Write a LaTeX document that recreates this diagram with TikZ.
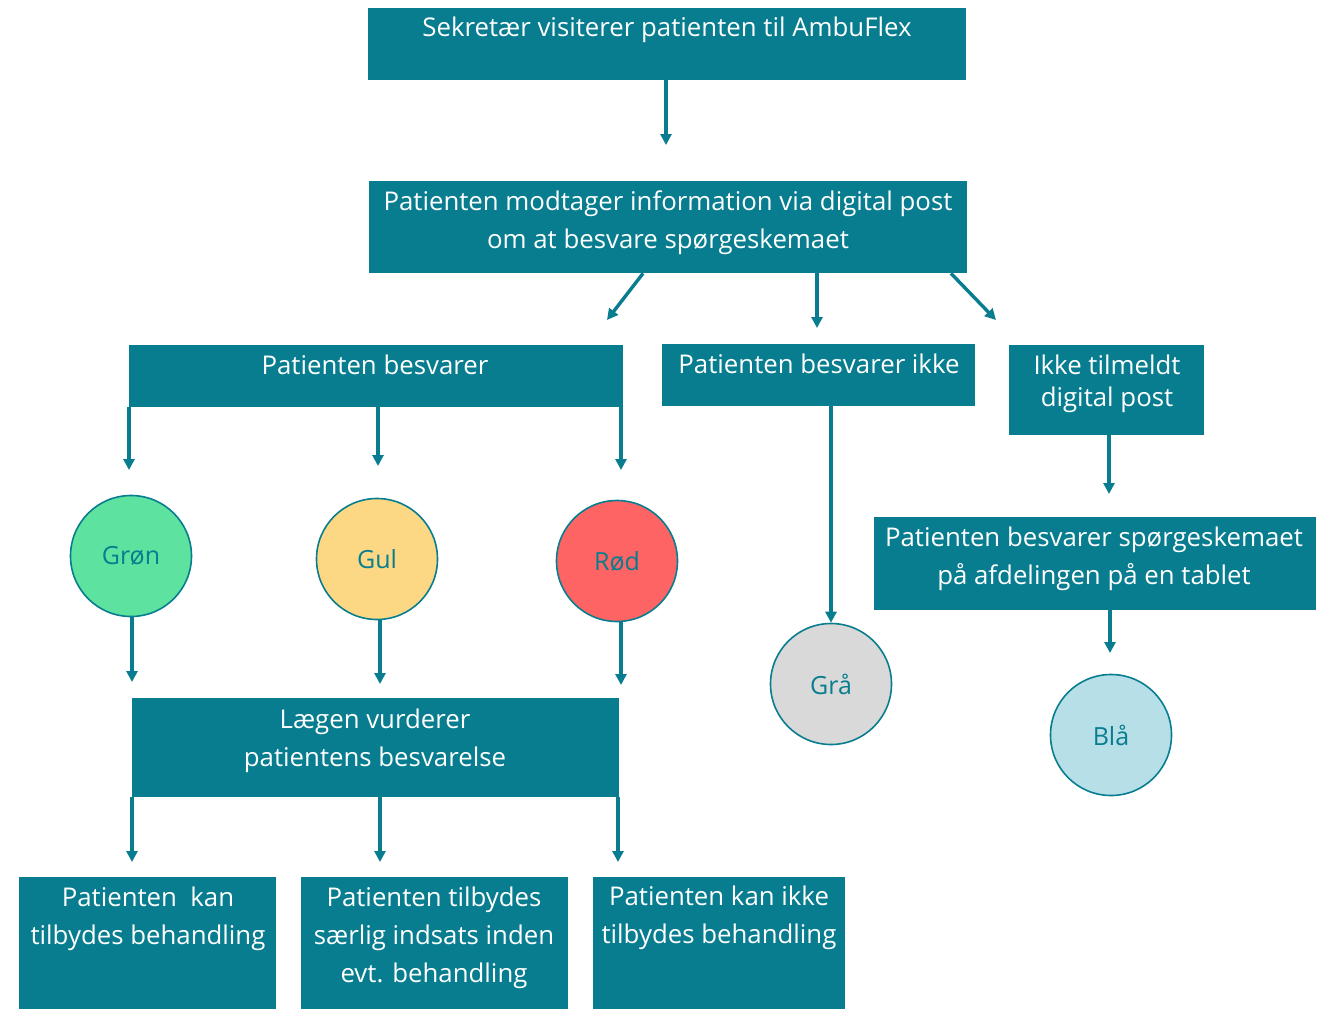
\documentclass[tikz,border=0pt]{standalone}
\usepackage{fontspec}
\setmainfont{Open Sans}
\usetikzlibrary{arrows.meta}
\definecolor{teal}{HTML}{077D8F}
\definecolor{cgreen}{HTML}{5DE2A0}
\definecolor{cyellow}{HTML}{FDD884}
\definecolor{cred}{HTML}{FE6464}
\definecolor{cgrey}{HTML}{D9D9D9}
\definecolor{cblue}{HTML}{B7DFE8}
\tikzset{
  box/.style={fill=teal, draw=none, anchor=north west, inner sep=0pt},
  txt/.style={text=white, align=center, anchor=base, inner sep=0pt, font=\fontsize{25.8}{38}\selectfont},
  circ/.style={circle, draw=teal, line width=1.6pt, minimum size=121pt, inner sep=0pt, text=teal, font=\fontsize{25}{28}\selectfont},
  arr/.style={draw=teal, line width=3.4pt, -{Triangle[length=11pt,width=11pt]}},
}
\begin{document}
\begin{tikzpicture}[x=1pt,y=-1pt]
\useasboundingbox (0,0) rectangle (1320,1009);
% boxes
\node[box, minimum width=598pt, minimum height=72pt] (b1) at (368,8) {};
\node[txt] (t1) at (667,36) {Sekretær visiterer patienten til AmbuFlex};
\node[box, minimum width=598pt, minimum height=92pt] (b2) at (369,181) {};
\node[txt] (t2) at (668,248) {Patienten modtager information via digital post\\om at besvare spørgeskemaet};
\node[box, minimum width=494pt, minimum height=62pt] (b3) at (129,345) {};
\node[txt] (t3) at (375,374) {Patienten besvarer};
\node[box, minimum width=313pt, minimum height=62pt] (b4) at (662,344) {};
\node[txt] (t4) at (819,373) {Patienten besvarer ikke};
\node[box, minimum width=195pt, minimum height=90pt] (b5) at (1009,345) {};
\node[txt, font=\fontsize{25.8}{32}\selectfont] (t5) at (1107,406) {Ikke tilmeldt\\digital post};
\node[box, minimum width=442pt, minimum height=93pt] (b6) at (874,517) {};
\node[txt] (t6) at (1094,584) {Patienten besvarer spørgeskemaet\\på afdelingen på en tablet};
\node[box, minimum width=487pt, minimum height=99pt] (b7) at (132,698) {};
\node[txt] (t7) at (375,766) {Lægen vurderer\\patientens besvarelse};
\node[box, minimum width=257pt, minimum height=132pt] (b8) at (19,877) {};
\node[txt] (t8) at (148,944) {Patienten\ \ kan\\tilbydes behandling};
\node[box, minimum width=267pt, minimum height=132pt] (b9) at (301,877) {};
\node[txt] (t9) at (434,982) {Patienten tilbydes\\særlig indsats inden\\evt. behandling};
\node[box, minimum width=252pt, minimum height=132pt] (b10) at (593,877) {};
\node[txt] (t10) at (719,943) {Patienten kan ikke\\tilbydes behandling};
% circles
\node[circ, fill=cgreen] (c1) at (131,556) {Grøn};
\node[circ, fill=cyellow] (c2) at (377,559) {Gul};
\node[circ, fill=cred] (c3) at (617,561) {Rød};
\node[circ, fill=cgrey] (c4) at (831,684) {Grå};
\node[circ, fill=cblue] (c5) at (1111,735) {Blå};
% arrow end coordinates
\coordinate (e1) at (666,145);
\coordinate (e2) at (607,320);
\coordinate (e3) at (817,328);
\coordinate (e4) at (996,320);
\coordinate (e5) at (129,470);
\coordinate (e6) at (378,466);
\coordinate (e7) at (621,470);
\coordinate (e8) at (1109,494);
\coordinate (e9) at (1110,653);
\coordinate (e10) at (132,682);
\coordinate (e11) at (380,684);
\coordinate (e12) at (621,685);
\coordinate (e13) at (132,862);
\coordinate (e14) at (380,862);
\coordinate (e15) at (618,862);
% arrows
\draw[arr] (b1.south west -| e1) -- (e1);
\draw[arr] ([xshift=274pt]b2.south west) -- (e2);
\draw[arr] (b2.south west -| e3) -- (e3);
\draw[arr] ([xshift=582pt]b2.south west) -- (e4);
\draw[arr] (b3.south west -| e5) -- (e5);
\draw[arr] (b3.south west -| e6) -- (e6);
\draw[arr] (b3.south west -| e7) -- (e7);
\draw[arr] (b4.south west -| c4.north) -- (c4.north);
\draw[arr] (c1.south -| e10) -- (e10);
\draw[arr] (c2.south -| e11) -- (e11);
\draw[arr] (c3.south -| e12) -- (e12);
\draw[arr] (b5.south west -| e8) -- (e8);
\draw[arr] (b6.south west -| e9) -- (e9);
\draw[arr] (b7.south west -| e13) -- (e13);
\draw[arr] (b7.south west -| e14) -- (e14);
\draw[arr] (b7.south west -| e15) -- (e15);
\end{tikzpicture}
\end{document}
